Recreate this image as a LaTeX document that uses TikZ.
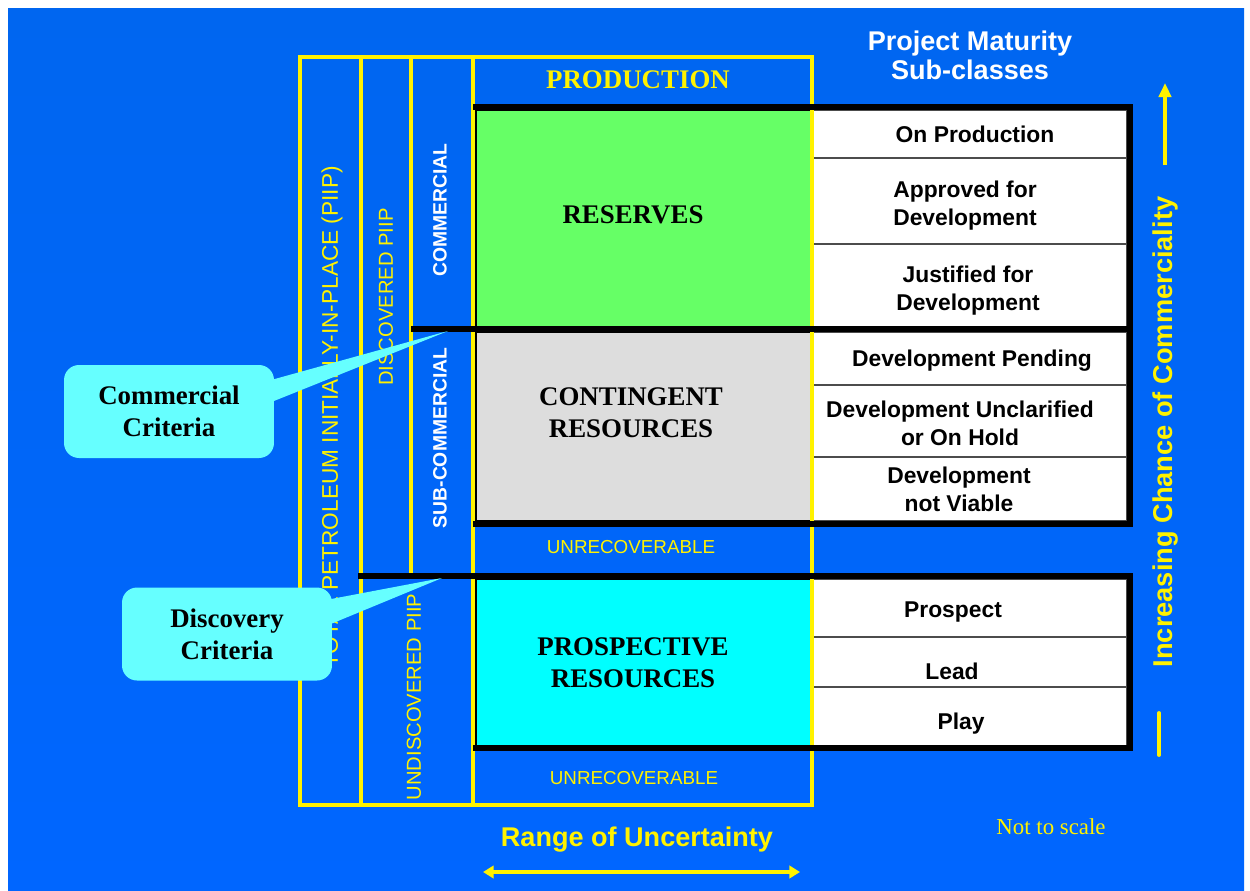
\documentclass[tikz,border=0pt]{standalone}
\usepackage{fontspec}
\setmainfont{Liberation Serif}
\setsansfont{Liberation Sans}
\usetikzlibrary{arrows.meta,positioning,calc}

\definecolor{skytop}{RGB}{0,102,240}
\definecolor{skymid}{RGB}{0,76,196}
\definecolor{skybot}{RGB}{0,102,255}
\definecolor{resgreen}{RGB}{102,255,102}
\definecolor{congray}{RGB}{221,221,221}
\definecolor{procyan}{RGB}{0,255,255}
\definecolor{tagcyan}{RGB}{102,255,255}

\tikzset{
  frameline/.style={yellow, line width=1.9pt},
  cutline/.style={black, line width=3.2pt},
  classbox/.style={draw=black, line width=0.6pt},
  rowline/.style={draw=black!70, line width=0.8pt},
  classtext/.style={font=\bfseries\fontsize{15.3}{18}\selectfont, align=center},
  rowtext/.style={font=\sffamily\bfseries\fontsize{13}{16}\selectfont, align=center},
  coltext/.style={font=\sffamily\fontsize{11.5}{14}\selectfont, text=yellow, rotate=90},
  colbold/.style={font=\sffamily\bfseries\fontsize{11}{14}\selectfont, text=white, rotate=90},
  criteria/.style={fill=tagcyan, rounded corners=0.3cm, minimum width=4.2cm,
    minimum height=1.86cm, font=\bfseries\fontsize{15.3}{18}\selectfont, align=center},
}

\begin{document}
\begin{tikzpicture}[x=0.02cm,y=-0.02cm]
\useasboundingbox (0,0) rectangle (1250,890);
% Background
\fill[white] (0,0) rectangle (1250,890);
\shade[top color=skytop, middle color=skymid, bottom color=skybot] (8,8) rectangle (1244,890);

% Resource classes
\fill[resgreen, classbox] (476,110) rectangle (812,327);
\fill[congray, classbox] (476,332) rectangle (812,521);
\fill[procyan, classbox] (476,579) rectangle (812,746);

% Sub-class rows
\foreach \ya/\yb in {110/158,158/244,244/327,332/385,385/457,457/521,579/637,637/687,687/746}
  \draw[rowline, fill=white] (812,\ya) rectangle (1127,\yb);

% PIIP frame and columns
\draw[frameline] (300,57) rectangle (812,805);
\draw[frameline] (361,57) -- (361,805);
\draw[frameline] (411,57) -- (411,576);
\draw[frameline] (473,57) -- (473,805);

% Commercial and discovery cuts
\draw[cutline] (473,107) -- (1130,107) -- (1130,524) -- (473,524);
\draw[cutline] (411,329) -- (1130,329);
\draw[cutline] (358,576) -- (1130,576) -- (1130,748) -- (473,748);

% Class labels
\node[classtext, text=yellow] (prod) at (638,80) {PRODUCTION};
\node[classtext] (res) at (633,215) {RESERVES};
\node[classtext] (cont) at (631,413) {CONTINGENT\\RESOURCES};
\node[classtext] (pros) at (633,663) {PROSPECTIVE\\RESOURCES};
\node[font=\sffamily\fontsize{10.7}{13}\selectfont, text=yellow] (unrec1) at (631,547) {UNRECOVERABLE};
\node[font=\sffamily\fontsize{10.7}{13}\selectfont, text=yellow] (unrec2) at (634,778) {UNRECOVERABLE};

% Column labels
\node[coltext, font=\sffamily\fontsize{12.9}{14}\selectfont] (piip) at (332,417) {TOTAL PETROLEUM INITIALLY-IN-PLACE (PIIP)};
\node[coltext] (disc) at (386,297) {DISCOVERED PIIP};
\node[coltext] (undisc) at (414,697) {UNDISCOVERED PIIP};
\node[colbold] (comm) at (440,210) {COMMERCIAL};
\node[colbold] (subcomm) at (440,438) {SUB-COMMERCIAL};

% Project maturity sub-classes
\node[font=\sffamily\bfseries\fontsize{15.4}{16.5}\selectfont, text=white, align=center] (mat) at (970,55) {Project Maturity\\Sub-classes};
\foreach \x/\y/\t [count=\i] in {975/134/{On Production}, 965/206/{Approved for\\Development},
    968/291/{Justified for\\Development}, 972/361/{Development Pending},
    960/423/{Development Unclarified\\or On Hold}, 959/489/{Development\\not Viable},
    953/612/{Prospect}, 952/671/{Lead}, 961/724/{Play}}
  \node[rowtext] (sub\i) at (\x,\y) {\t};

% Chance of commerciality
\node[font=\sffamily\bfseries\fontsize{15.5}{18}\selectfont, text=yellow, rotate=90] (chance) at (1165,432) {Increasing Chance of Commerciality};
\coordinate (upfoot) at (1165,165);
\coordinate (uptip) at (1165,83);
\coordinate (lowtop) at (1159,713);
\coordinate (lowend) at (1159,755);
\draw[yellow, line width=2.2pt, -{Triangle[length=8pt,width=7pt]}] (upfoot) -- (uptip);
\draw[yellow, line width=2.2pt, line cap=round] (lowtop) -- (lowend);

% Range of uncertainty
\node[font=\sffamily\bfseries\fontsize{15.4}{18}\selectfont, text=yellow] (range) at (637,840) {Range of Uncertainty};
\coordinate (rangeL) at (483,872);
\coordinate (rangeR) at (800,872);
\draw[yellow, line width=1.8pt, {Triangle[length=6pt,width=7pt]}-{Triangle[length=6pt,width=7pt]}] (rangeL) -- (rangeR);
\node[font=\fontsize{13}{15}\selectfont, text=yellow] (scale) at (1051,827) {Not to scale};

% Criteria callouts
\coordinate (commtip) at (448,331);
\coordinate (disctip) at (442,578);
\node[criteria] (commcrit) at (169,411.5) {Commercial\\Criteria};
\node[criteria] (disccrit) at (227,634) {Discovery\\Criteria};
\fill[tagcyan] ($(commcrit.north east)+(-2,15)$) -- (commtip) -- ($(commcrit.north east)+(-2,37)$) -- cycle;
\fill[tagcyan] ($(disccrit.north east)+(-2,12)$) -- (disctip) -- ($(disccrit.north east)+(-2,37)$) -- cycle;
\end{tikzpicture}
\end{document}
